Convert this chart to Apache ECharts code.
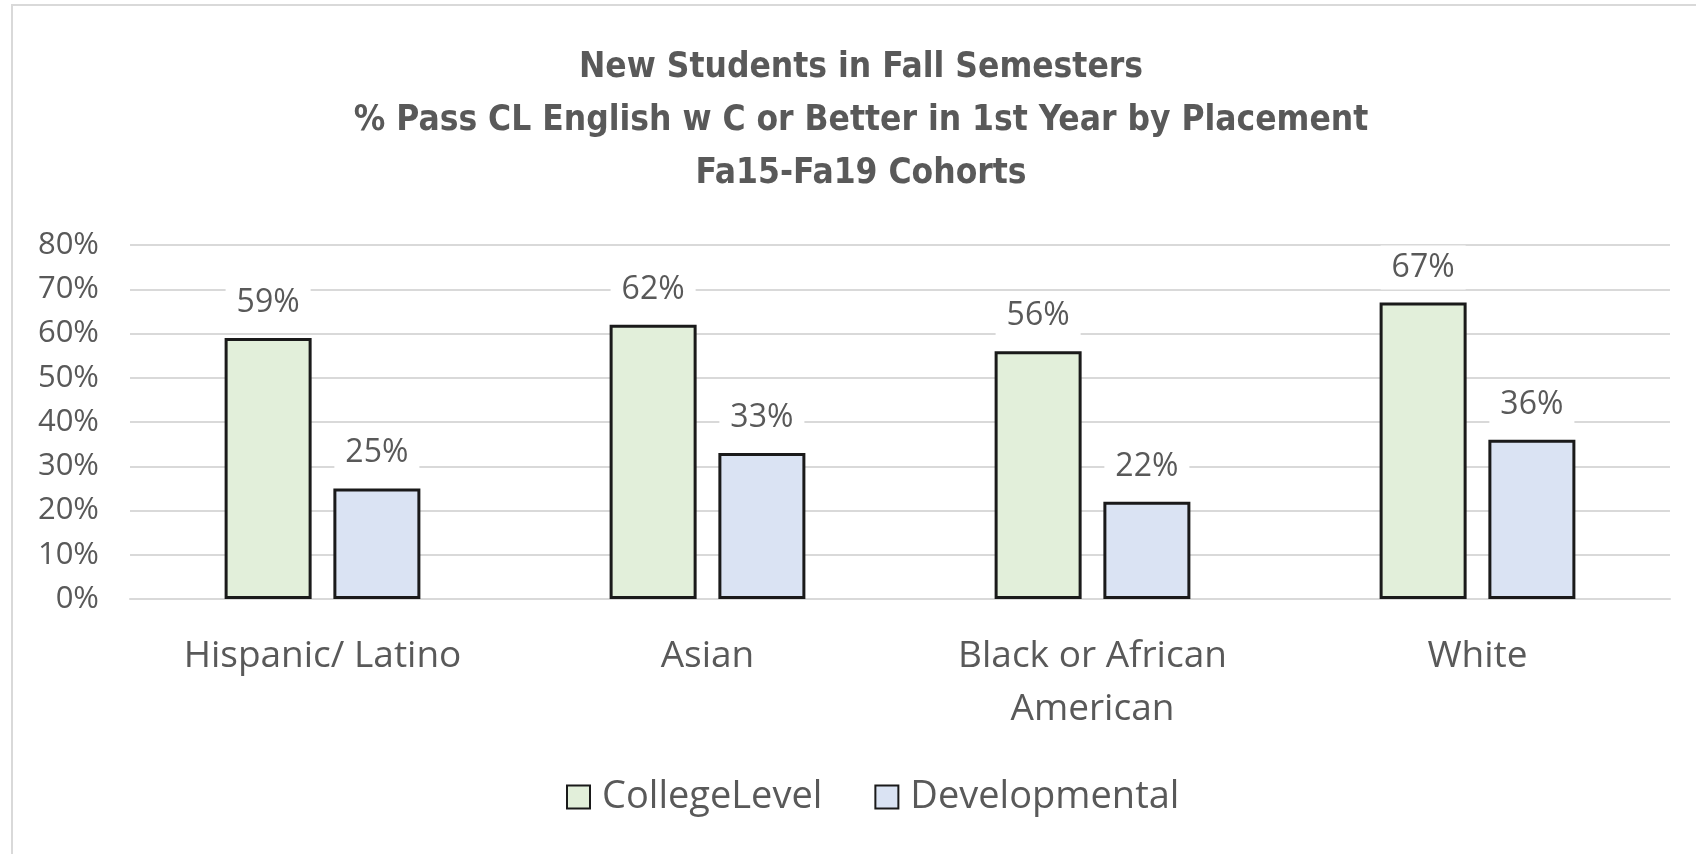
<!DOCTYPE html>
<html>
<head>
<meta charset="utf-8">
<script src="https://cdn.jsdelivr.net/npm/echarts@6/dist/echarts.min.js"></script>
<style>
  html, body { margin: 0; padding: 0; background: #fff; }
  #main { width: 1696px; height: 854px; }
</style>
</head>
<body>
<div id="main"></div>
<script>
var categories = ['Hispanic/ Latino', 'Asian', 'Black or African\nAmerican', 'White'];
var collegeLevel = [59, 62, 56, 67];
var developmental = [25, 33, 22, 36];
var yTicks = [0, 10, 20, 30, 40, 50, 60, 70, 80];

var textGray = '#595959';
var labelFont = 'Open Sans';

function barSeries(name, data, color) {
    return {
        name: name,
        type: 'bar',
        data: data,
        barWidth: '22.6%',
        barGap: '25%',
        itemStyle: { color: color, borderColor: '#1a1a1a', borderWidth: 3 },
        label: {
            show: true,
            position: 'top',
            distance: 13,
            formatter: '{c}%',
            color: textGray,
            fontFamily: labelFont,
            fontSize: 32,
            backgroundColor: '#fff',
            padding: [6, 11]
        }
    };
}

var chart = echarts.init(document.getElementById('main'));
chart.setOption({
    animation: false,
    title: {
        text: 'New Students in Fall Semesters\n% Pass CL English w C or Better in 1st Year by Placement\nFa15-Fa19 Cohorts',
        // the source title sits a bit right of the page centre
        left: 861,
        textAlign: 'center',
        top: 41,
        padding: 0,
        textStyle: {
            color: textGray,
            fontFamily: 'DejaVu Sans Condensed',
            fontWeight: 'bold',
            fontSize: 35,
            lineHeight: 53
        }
    },
    legend: {
        bottom: 33,
        left: 561,
        itemWidth: 23,
        itemHeight: 23,
        itemGap: 52,
        icon: 'rect',
        textStyle: { color: textGray, fontFamily: labelFont, fontSize: 38, padding: [0, 0, 0, 7] },
        data: ['CollegeLevel', 'Developmental']
    },
    grid: { left: 130, right: 26, top: 245, bottom: 255 },
    xAxis: {
        type: 'category',
        data: categories,
        axisLine: { lineStyle: { color: '#d9d9d9', width: 2 } },
        axisTick: { show: false },
        axisLabel: {
            color: textGray,
            fontFamily: labelFont,
            fontSize: 37,
            lineHeight: 53,
            margin: 31
        }
    },
    yAxis: {
        type: 'value',
        min: yTicks[0],
        max: yTicks[yTicks.length - 1],
        interval: 10,
        axisLine: { show: false },
        axisTick: { show: false },
        axisLabel: {
            color: textGray,
            fontFamily: labelFont,
            fontSize: 31,
            margin: 31,
            formatter: '{value}%'
        },
        splitLine: { lineStyle: { color: '#d9d9d9', width: 2 } }
    },
    graphic: [{
        type: 'rect',
        shape: { x: 12, y: 5, width: 1720, height: 900 },
        style: { fill: 'none', stroke: '#d9d9d9', lineWidth: 2 },
        silent: true
    }],
    series: [
        barSeries('CollegeLevel', collegeLevel, '#e2efda'),
        barSeries('Developmental', developmental, '#dae3f3')
    ]
});
</script>
</body>
</html>
